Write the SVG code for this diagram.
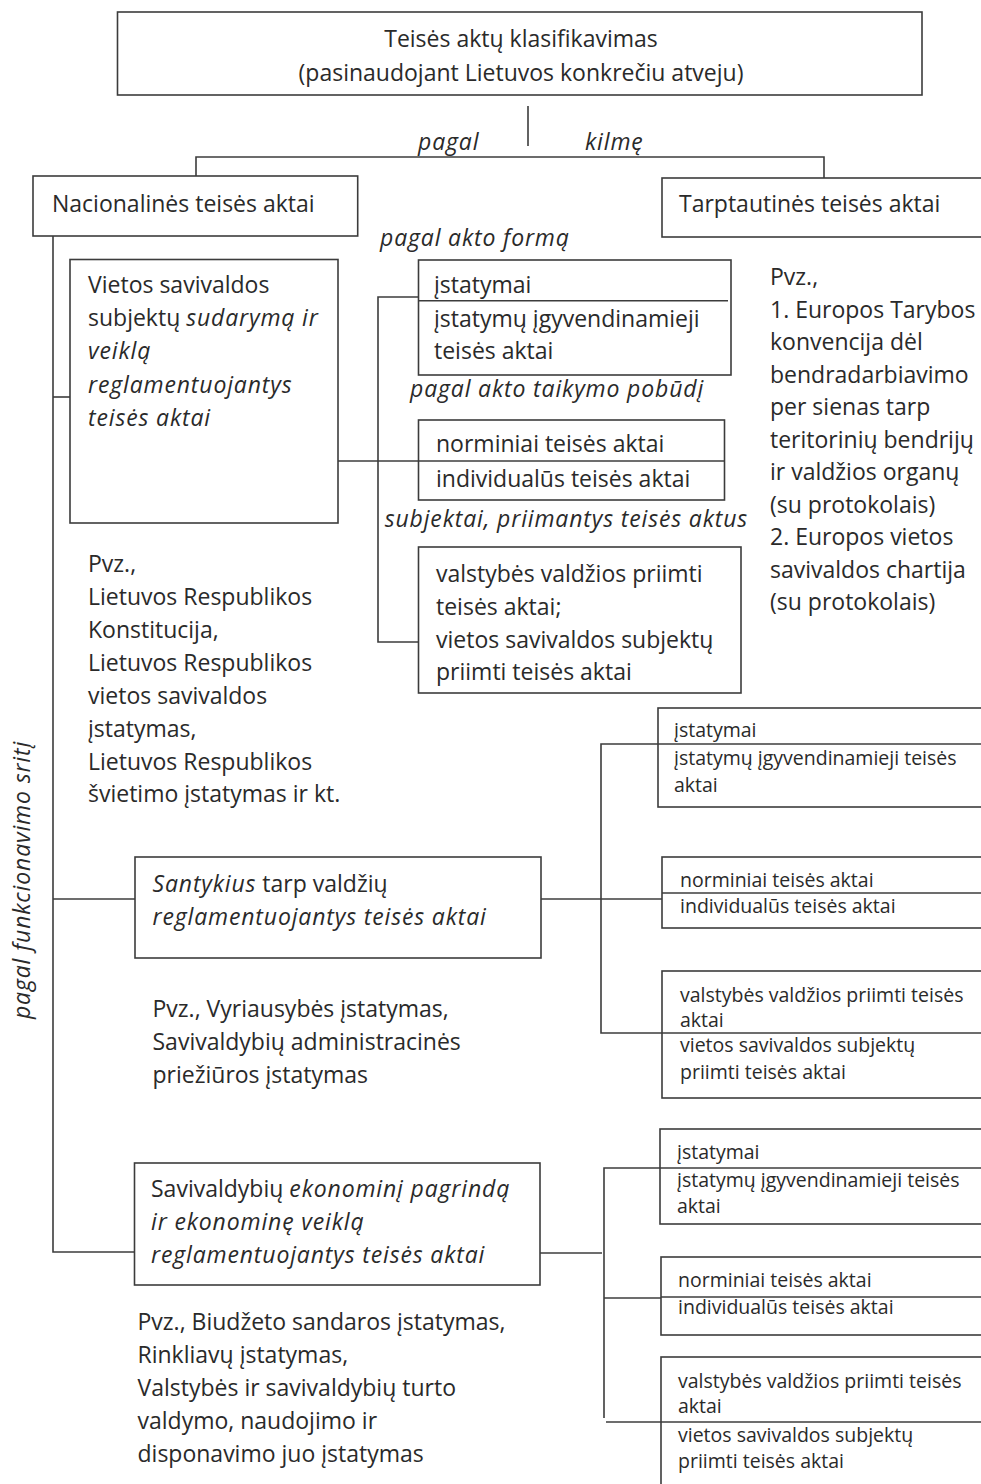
<svg xmlns="http://www.w3.org/2000/svg" width="981" height="1484" viewBox="0 0 981 1484">
<style>
.box{fill:none;stroke:#3c3c3c;stroke-width:1.6}
.ln{fill:none;stroke:#3c3c3c;stroke-width:1.6}
text{font-family:"Open Sans","Noto Sans",sans-serif;fill:#2a2a2a}
.t{font-size:23px}
.s{font-size:19.5px}
.i{font-style:italic;letter-spacing:0.85px}
</style>
<rect width="981" height="1484" fill="#fff"/>
<g id="connectors">
<path class="ln" d="M528,106 V146"/>
<path class="ln" d="M196,176 V157 H824 V178"/>
<path class="ln" d="M53,236 V1252 H134"/>
<path class="ln" d="M53,397 H70"/>
<path class="ln" d="M53,899 H135"/>
<path class="ln" d="M338,461 H418"/>
<path class="ln" d="M418,297 H378 V642 H418"/>
<path class="ln" d="M541,899 H662"/>
<path class="ln" d="M658,744 H601 V1033 H662"/>
<path class="ln" d="M540,1253 H602"/>
<path class="ln" d="M660,1168 H604 V1418"/>
<path class="ln" d="M604,1298 H661"/>
<path class="ln" d="M606,1422 H661"/>
</g>
<g id="title">
<rect class="box" x="117.5" y="12" width="804.5" height="83"/>
<text class="t" x="521" y="47" text-anchor="middle">Teisės aktų klasifikavimas</text>
<text class="t" x="521" y="81" text-anchor="middle">(pasinaudojant Lietuvos konkrečiu atveju)</text>
</g>
<g id="label-kilme">
<text class="t i" x="418" y="150">pagal</text>
<text class="t i" x="585" y="150">kilmę</text>
</g>
<g id="nacionalines">
<rect class="box" x="33" y="176" width="324.7" height="60"/>
<text class="t" x="52" y="211.5">Nacionalinės teisės aktai</text>
</g>
<g id="tarptautines">
<rect class="box" x="662" y="178" width="340" height="59"/>
<text class="t" x="679" y="211.5">Tarptautinės teisės aktai</text>
</g>
<g id="tarptautines-pvz">
<text class="t" x="770">
<tspan x="770" y="285">Pvz.,</tspan>
<tspan x="770" y="317.5">1. Europos Tarybos</tspan>
<tspan x="770" y="350">konvencija dėl</tspan>
<tspan x="770" y="382.5">bendradarbiavimo</tspan>
<tspan x="770" y="415">per sienas tarp</tspan>
<tspan x="770" y="447.5">teritorinių bendrijų</tspan>
<tspan x="770" y="480">ir valdžios organų</tspan>
<tspan x="770" y="512.5">(su protokolais)</tspan>
<tspan x="770" y="545">2. Europos vietos</tspan>
<tspan x="770" y="577.5">savivaldos chartija</tspan>
<tspan x="770" y="610">(su protokolais)</tspan>
</text>
</g>
<g id="label-forma"><text class="t i" x="380" y="246">pagal akto formą</text></g>
<g id="vietos">
<rect class="box" x="70" y="259.5" width="268" height="263.5"/>
<text class="t" x="88">
<tspan x="88" y="293">Vietos savivaldos</tspan>
<tspan x="88" y="326">subjektų <tspan class="i">sudarymą ir</tspan></tspan>
<tspan x="88" y="359" class="i">veiklą</tspan>
<tspan x="88" y="393" class="i">reglamentuojantys</tspan>
<tspan x="88" y="426" class="i">teisės aktai</tspan>
</text>
</g>
<g id="forma-box">
<rect class="box" x="418.5" y="260" width="312.5" height="115"/>
<path class="ln" d="M418.5,300.7 H728"/>
<text class="t" x="434" y="293">įstatymai</text>
<text class="t" x="434" y="327">įstatymų įgyvendinamieji</text>
<text class="t" x="434" y="359">teisės aktai</text>
</g>
<g id="label-pobudis"><text class="t i" x="410" y="397">pagal akto taikymo pobūdį</text></g>
<g id="pobudis-box">
<rect class="box" x="418.5" y="420" width="306" height="80"/>
<path class="ln" d="M418.5,461 H724.5"/>
<text class="t" x="436" y="452">norminiai teisės aktai</text>
<text class="t" x="436" y="487">individualūs teisės aktai</text>
</g>
<g id="label-subjektai"><text class="t i" x="384.7" y="527">subjektai, priimantys teisės aktus</text></g>
<g id="subjektai-box">
<rect class="box" x="418.5" y="547" width="322.5" height="146"/>
<text class="t" x="436">
<tspan x="436" y="582">valstybės valdžios priimti</tspan>
<tspan x="436" y="615">teisės aktai;</tspan>
<tspan x="436" y="648">vietos savivaldos subjektų</tspan>
<tspan x="436" y="680">priimti teisės aktai</tspan>
</text>
</g>
<g id="vietos-pvz">
<text class="t" x="88">
<tspan x="88" y="572">Pvz.,</tspan>
<tspan x="88" y="605">Lietuvos Respublikos</tspan>
<tspan x="88" y="638">Konstitucija,</tspan>
<tspan x="88" y="671">Lietuvos Respublikos</tspan>
<tspan x="88" y="704">vietos savivaldos</tspan>
<tspan x="88" y="737">įstatymas,</tspan>
<tspan x="88" y="770">Lietuvos Respublikos</tspan>
<tspan x="88" y="802">švietimo įstatymas ir kt.</tspan>
</text>
</g>
<g id="label-sritis">
<text class="t i" transform="translate(30,880) rotate(-90)" text-anchor="middle">pagal funkcionavimo sritį</text>
</g>
<g id="santykius">
<rect class="box" x="135" y="857" width="406" height="101"/>
<text class="t" x="152.5">
<tspan x="152.5" y="892"><tspan class="i">Santykius</tspan> tarp valdžių</tspan>
<tspan x="152.5" y="925" class="i">reglamentuojantys teisės aktai</tspan>
</text>
</g>
<g id="santykius-pvz">
<text class="t" x="152.5">
<tspan x="152.5" y="1017">Pvz., Vyriausybės įstatymas,</tspan>
<tspan x="152.5" y="1050">Savivaldybių administracinės</tspan>
<tspan x="152.5" y="1083">priežiūros įstatymas</tspan>
</text>
</g>
<g id="s-forma">
<rect class="box" x="658" y="708" width="340" height="99"/>
<path class="ln" d="M658,744 H998"/>
<text class="s" x="674" y="737">įstatymai</text>
<text class="s" x="674" y="765">įstatymų įgyvendinamieji teisės</text>
<text class="s" x="674" y="792">aktai</text>
</g>
<g id="s-pobudis">
<rect class="box" x="662" y="857" width="336" height="71"/>
<path class="ln" d="M662,893 H998"/>
<text class="s" x="680" y="887">norminiai teisės aktai</text>
<text class="s" x="680" y="913">individualūs teisės aktai</text>
</g>
<g id="s-subjektai">
<rect class="box" x="662" y="971" width="336" height="127"/>
<path class="ln" d="M662,1033 H998"/>
<text class="s" x="680" y="1002">valstybės valdžios priimti teisės</text>
<text class="s" x="680" y="1027">aktai</text>
<text class="s" x="680" y="1052">vietos savivaldos subjektų</text>
<text class="s" x="680" y="1079">priimti teisės aktai</text>
</g>
<g id="savivaldybiu">
<rect class="box" x="134.5" y="1163" width="405.5" height="122"/>
<text class="t" x="151">
<tspan x="151" y="1197">Savivaldybių <tspan class="i">ekonominį pagrindą</tspan></tspan>
<tspan x="151" y="1230" class="i">ir ekonominę veiklą</tspan>
<tspan x="151" y="1263" class="i">reglamentuojantys teisės aktai</tspan>
</text>
</g>
<g id="savivaldybiu-pvz">
<text class="t" x="137.5">
<tspan x="137.5" y="1330">Pvz., Biudžeto sandaros įstatymas,</tspan>
<tspan x="137.5" y="1363">Rinkliavų įstatymas,</tspan>
<tspan x="137.5" y="1396">Valstybės ir savivaldybių turto</tspan>
<tspan x="137.5" y="1429">valdymo, naudojimo ir</tspan>
<tspan x="137.5" y="1462">disponavimo juo įstatymas</tspan>
</text>
</g>
<g id="e-forma">
<rect class="box" x="660" y="1129" width="340" height="95"/>
<path class="ln" d="M660,1168 H1000"/>
<text class="s" x="677" y="1159">įstatymai</text>
<text class="s" x="677" y="1187">įstatymų įgyvendinamieji teisės</text>
<text class="s" x="677" y="1213">aktai</text>
</g>
<g id="e-pobudis">
<rect class="box" x="661" y="1257" width="340" height="78"/>
<path class="ln" d="M661,1297 H1001"/>
<text class="s" x="678" y="1287">norminiai teisės aktai</text>
<text class="s" x="678" y="1314">individualūs teisės aktai</text>
</g>
<g id="e-subjektai">
<rect class="box" x="661" y="1357" width="340" height="140"/>
<path class="ln" d="M661,1422 H1001"/>
<text class="s" x="678" y="1388">valstybės valdžios priimti teisės</text>
<text class="s" x="678" y="1413">aktai</text>
<text class="s" x="678" y="1442">vietos savivaldos subjektų</text>
<text class="s" x="678" y="1468">priimti teisės aktai</text>
</g>
</svg>
